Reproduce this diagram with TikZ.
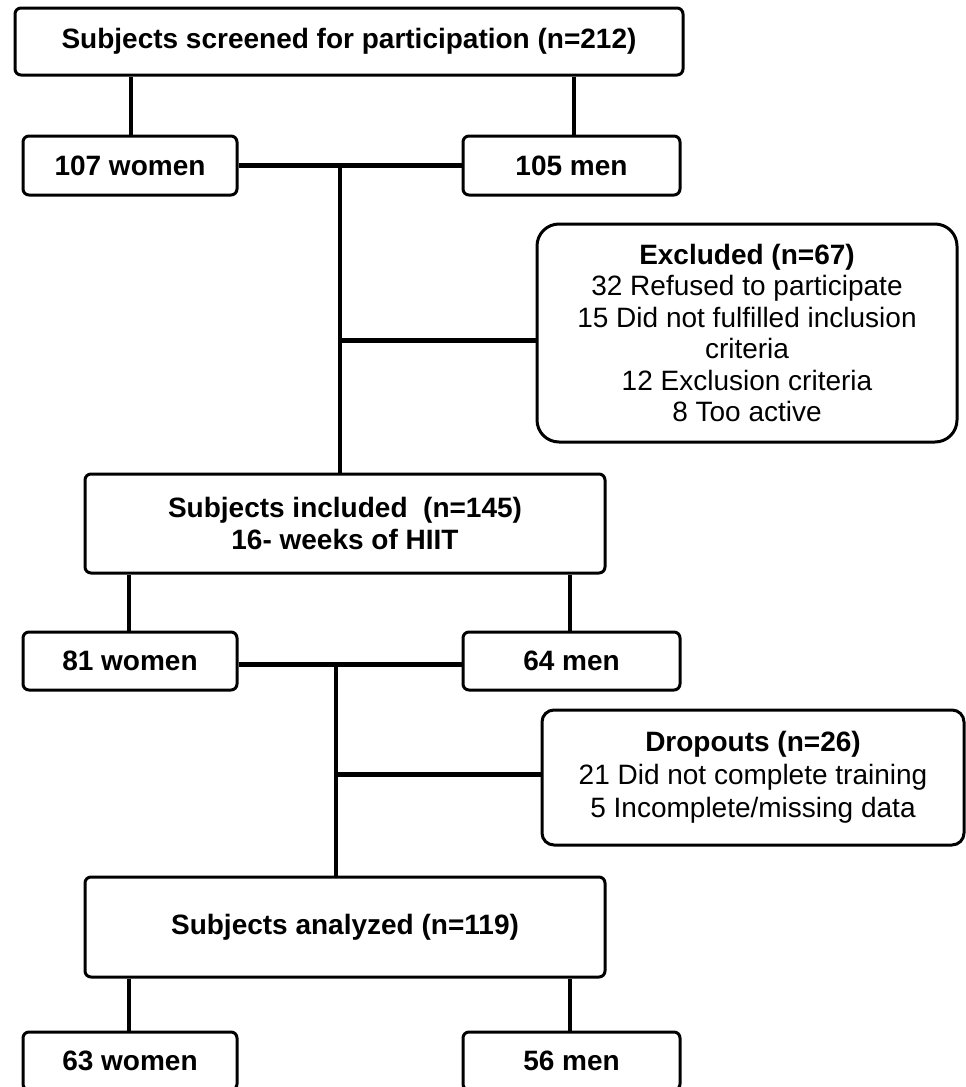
\documentclass[tikz,border=0pt]{standalone}
\usepackage{fontspec}
\setmainfont{Liberation Sans}
\begin{document}
\begin{tikzpicture}[x=1pt,y=-1pt,
  box/.style={draw=black,line width=3pt,rounded corners=6pt,fill=white,inner sep=0pt,align=center,
    font=\fontsize{28}{32}\selectfont},
  bbox/.style={box,font=\fontsize{28}{32}\selectfont\bfseries},
  vline/.style={line width=3.5pt},
  hline/.style={line width=5pt}]
\useasboundingbox (0,0) rectangle (966,1087);
\fill[white] (0,0) rectangle (966,1087);
% nodes
\node[bbox,minimum width=668pt,minimum height=67pt] (top) at (349,41.5) {Subjects screened for participation (n=212)};
\node[bbox,minimum width=214pt,minimum height=59pt] (w1) at (130,165.5) {107 women};
\node[bbox,minimum width=217pt,minimum height=59pt] (m1) at (571.5,165.5) {105 men};
\node[box,rounded corners=22pt,minimum width=420pt,minimum height=218pt,font=\fontsize{28}{31.5}\selectfont] (exc) at (747,333)
  {\textbf{Excluded (n=67)}\\32 Refused to participate\\15 Did not fulfilled inclusion\\criteria\\12 Exclusion criteria\\8 Too active};
\node[bbox,minimum width=520pt,minimum height=99pt] (inc) at (345,523.5) {Subjects included \ (n=145)\\16- weeks of HIIT};
\node[bbox,minimum width=214pt,minimum height=58pt] (w2) at (130,661) {81 women};
\node[bbox,minimum width=217pt,minimum height=58pt] (m2) at (571.5,661) {64 men};
\node[box,rounded corners=12pt,minimum width=422pt,minimum height=135pt,font=\fontsize{28}{33}\selectfont] (drop) at (753,777.5)
  {\textbf{Dropouts (n=26)}\\21 Did not complete training\\5 Incomplete/missing data};
\node[bbox,minimum width=520pt,minimum height=100pt] (ana) at (345,927) {Subjects analyzed (n=119)};
\node[bbox,minimum width=214pt,minimum height=58pt] (w3) at (130,1061) {63 women};
\node[bbox,minimum width=217pt,minimum height=58pt] (m3) at (571.5,1061) {56 men};
% junctions
\coordinate (j1) at (340,165.5);
\coordinate (j2) at (336,664);
% connectors
\draw[vline] ([xshift=1pt]w1.north) -- ([xshift=1pt]w1.north |- top.south);
\draw[vline] ([xshift=2.5pt]m1.north) -- ([xshift=2.5pt]m1.north |- top.south);
\draw[hline] (w1.east) -- (m1.west);
\draw[vline] (j1) -- (j1 |- inc.north);
\draw[hline] (j1 |- exc.west) ++(0,7) -- ([yshift=-7pt]exc.west);
\draw[vline] ([xshift=-1pt]w2.north) -- ([xshift=-1pt]w2.north |- inc.south);
\draw[vline] ([xshift=-1.5pt]m2.north) -- ([xshift=-1.5pt]m2.north |- inc.south);
\draw[hline] (w2.east |- j2) -- (m2.west |- j2);
\draw[vline] (j2) -- (j2 |- ana.north);
\draw[hline] (j2 |- drop.west) ++(0,-3) -- ([yshift=3pt]drop.west);
\draw[vline] ([xshift=-1pt]w3.north) -- ([xshift=-1pt]w3.north |- ana.south);
\draw[vline] ([xshift=-1.5pt]m3.north) -- ([xshift=-1.5pt]m3.north |- ana.south);
\end{tikzpicture}
\end{document}
